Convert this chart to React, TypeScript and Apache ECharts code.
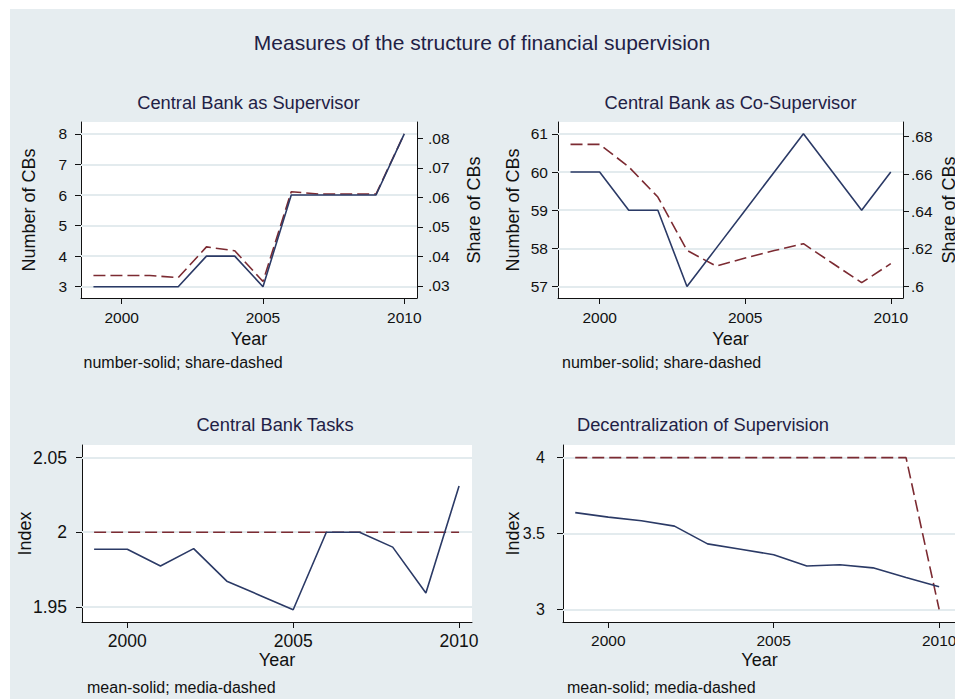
import React, { useEffect, useRef } from "react";
import * as echarts from "echarts";

// ---- data ----
const years = [1999, 2000, 2001, 2002, 2003, 2004, 2005, 2006, 2007, 2008, 2009, 2010];

const cbSupNumber = [3, 3, 3, 3, 4, 4, 3, 6, 6, 6, 6, 8];
const cbSupShare = [0.0335, 0.0335, 0.0335, 0.0328, 0.0432, 0.0419, 0.0315, 0.0619, 0.0611, 0.0611, 0.0611, 0.0815];

const coSupNumber = [60, 60, 59, 59, 57, 58, 59, 60, 61, 60, 59, 60];
const coSupShare = [0.6759, 0.6759, 0.6639, 0.6477, 0.6191, 0.6107, 0.615, 0.619, 0.6227, 0.6122, 0.6018, 0.612];

const tasksMean = [1.9886, 1.9886, 1.9774, 1.989, 1.9672, 1.9576, 1.948, 2.0, 2.0, 1.99, 1.9592, 2.031];
const tasksMedian = [2, 2, 2, 2, 2, 2, 2, 2, 2, 2, 2, 2];

const decMean = [3.638, 3.608, 3.584, 3.549, 3.432, 3.397, 3.36, 3.286, 3.294, 3.274, 3.21, 3.149];
const decMedian = [4, 4, 4, 4, 4, 4, 4, 4, 4, 4, 4, 3];

// ---- tick labels ----
const yearTicks = [2000, 2005, 2010];
const cbSupNumberTicks = [3, 4, 5, 6, 7, 8];
const cbSupShareTicks = [0.03, 0.04, 0.05, 0.06, 0.07, 0.08];
const coSupNumberTicks = [57, 58, 59, 60, 61];
const coSupShareTicks = [0.6, 0.62, 0.64, 0.66, 0.68];
const tasksTicks = [1.95, 2, 2.05];
const decTicks = [3, 3.5, 4];

// ---- text ----
const mainTitle = "Measures of the structure of financial supervision";
const panelTitles = [
  "Central Bank as Supervisor",
  "Central Bank as Co-Supervisor",
  "Central Bank Tasks",
  "Decentralization of Supervision",
];
const notes = [
  "number-solid; share-dashed",
  "number-solid; share-dashed",
  "mean-solid; media-dashed",
  "mean-solid; media-dashed",
];

const FONT = "'Liberation Sans', Arial, Helvetica, sans-serif";
const BG = "#e6edf0";
const GRIDLINE = "#e3ebee";
const NAVY = "#2b3a66";
const MAROON = "#7c2b32";
const TITLE_COLOR = "#1f2145";
const AXIS = "#111";

const pair = (vals: number[]) => years.map((y, i) => [y, vals[i]]);
const fmt = (v: number) => String(+v.toFixed(4)).replace(/^0\./, ".");

function xAxis(gridIndex: number, min: number, max: number, fontSize: number, margin: number, nameGap: number) {
  return {
    type: "value",
    gridIndex,
    min,
    max,
    axisLine: { show: true, onZero: false, lineStyle: { color: AXIS, width: 1 } },
    axisTick: { show: true, length: 6, customValues: yearTicks, lineStyle: { color: AXIS } },
    axisLabel: { customValues: yearTicks, fontSize, color: AXIS, margin, formatter: (v: number) => String(v), fontFamily: FONT },
    splitLine: { show: false },
    name: "Year",
    nameLocation: "middle",
    nameGap,
    nameMoveOverlap: false,
    nameTextStyle: { fontSize: 18, color: AXIS, fontFamily: FONT },
  };
}

function yAxis(
  gridIndex: number,
  min: number,
  max: number,
  ticks: number[],
  position: string,
  name: string,
  nameGap: number,
  fontSize: number,
  margin: number
) {
  return {
    type: "value",
    gridIndex,
    min,
    max,
    position,
    axisLine: { show: true, onZero: false, lineStyle: { color: AXIS, width: 1 } },
    axisTick: { show: true, length: 6, customValues: ticks, lineStyle: { color: AXIS } },
    axisLabel: { customValues: ticks, fontSize, color: AXIS, margin, formatter: (v: number) => fmt(v), fontFamily: FONT },
    splitLine: { show: false },
    name,
    nameLocation: "middle",
    nameGap,
    nameMoveOverlap: false,
    nameTextStyle: { fontSize: 18, color: AXIS, fontFamily: FONT },
  };
}

function gridLines(xIdx: number, yIdx: number, ticks: number[]) {
  return {
    type: "line",
    xAxisIndex: xIdx,
    yAxisIndex: yIdx,
    data: [],
    silent: true,
    z: 1,
    markLine: {
      silent: true,
      z: 1,
      symbol: "none",
      label: { show: false },
      lineStyle: { color: GRIDLINE, width: 2, type: "solid" },
      emphasis: { disabled: true },
      data: ticks.map((t) => ({ yAxis: t })),
    },
  };
}

function solid(xIdx: number, yIdx: number, vals: number[]) {
  return {
    type: "line",
    xAxisIndex: xIdx,
    yAxisIndex: yIdx,
    data: pair(vals),
    symbol: "none",
    z: 4,
    lineStyle: { color: NAVY, width: 1.6, type: "solid" },
  };
}

function dashed(xIdx: number, yIdx: number, vals: number[]) {
  return {
    type: "line",
    xAxisIndex: xIdx,
    yAxisIndex: yIdx,
    data: pair(vals),
    symbol: "none",
    z: 3,
    lineStyle: { color: MAROON, width: 1.6, type: [12, 5] },
  };
}

export default function App() {
  const ref = useRef<HTMLDivElement>(null);

  useEffect(() => {
    if (!ref.current) return;
    const chart = echarts.init(ref.current, undefined, { renderer: "svg", width: 955, height: 699 });

    const gridBase = { show: true, backgroundColor: "#fff", borderWidth: 0, containLabel: false, outerBoundsMode: "none" };

    const titleText = (text: string, x: number, y: number, fontSize: number, align: string, color: string) => ({
      type: "text",
      x,
      y,
      z: 100,
      style: { text, fontSize, fontFamily: FONT, fill: color, align, verticalAlign: "middle" },
    });

    const option: any = {
      animation: false,
      backgroundColor: BG,
      textStyle: { fontFamily: FONT },
      grid: [
        { ...gridBase, left: 81, top: 122, width: 336, height: 176 },
        { ...gridBase, left: 558, top: 122, width: 345, height: 176 },
        { ...gridBase, left: 82, top: 445, width: 390, height: 177 },
        { ...gridBase, left: 563, top: 445, width: 393, height: 177 },
      ],
      xAxis: [
        xAxis(0, 1998.56, 2010.45, 15.5, 11, 32),
        xAxis(1, 1998.57, 2010.42, 15.5, 11, 32),
        xAxis(2, 1998.635, 2010.39, 17.5, 10, 29),
        xAxis(3, 1998.63, 2010.51, 15.5, 10, 29),
      ],
      yAxis: [
        yAxis(0, 2.63, 8.39, cbSupNumberTicks, "left", "Number of CBs", 43, 15.5, 14),
        yAxis(0, 0.0259, 0.0855, cbSupShareTicks, "right", "Share of CBs", 48, 15.5, 11),
        yAxis(1, 56.7, 61.31, coSupNumberTicks, "left", "Number of CBs", 36, 15.5, 10),
        yAxis(1, 0.5936, 0.6879, coSupShareTicks, "right", "Share of CBs", 37, 15.5, 8),
        yAxis(2, 1.9398, 2.0585, tasksTicks, "left", "Index", 48, 17.5, 15),
        yAxis(3, 2.917, 4.0835, decTicks, "left", "Index", 41.5, 16, 18),
      ],
      series: [
        gridLines(0, 0, cbSupNumberTicks),
        gridLines(1, 2, coSupNumberTicks),
        gridLines(2, 4, tasksTicks),
        gridLines(3, 5, decTicks),
        dashed(0, 1, cbSupShare),
        solid(0, 0, cbSupNumber),
        dashed(1, 3, coSupShare),
        solid(1, 2, coSupNumber),
        dashed(2, 4, tasksMedian),
        solid(2, 4, tasksMean),
        dashed(3, 5, decMedian),
        solid(3, 5, decMean),
      ],
      graphic: [
        { type: "rect", z: 100, shape: { x: 0, y: 0, width: 955, height: 9 }, style: { fill: "#fff" } },
        { type: "rect", z: 100, shape: { x: 0, y: 0, width: 10, height: 699 }, style: { fill: "#fff" } },
        titleText(mainTitle, 482, 42, 21, "center", TITLE_COLOR),
        titleText(panelTitles[0], 248.5, 102, 18.3, "center", TITLE_COLOR),
        titleText(panelTitles[1], 730.5, 102, 18.3, "center", TITLE_COLOR),
        titleText(panelTitles[2], 275, 424, 18.3, "center", TITLE_COLOR),
        titleText(panelTitles[3], 703, 424, 18.3, "center", TITLE_COLOR),
        titleText(notes[0], 83.5, 362, 16, "left", "#111"),
        titleText(notes[1], 562, 362, 16, "left", "#111"),
        titleText(notes[2], 87, 687, 16, "left", "#111"),
        titleText(notes[3], 567, 687, 16, "left", "#111"),
      ],
    };

    chart.setOption(option);
    return () => chart.dispose();
  }, []);

  return (
    <div
      ref={ref}
      style={{ position: "fixed", left: 0, top: 0, width: 955, height: 699, overflow: "hidden" }}
    />
  );
}
